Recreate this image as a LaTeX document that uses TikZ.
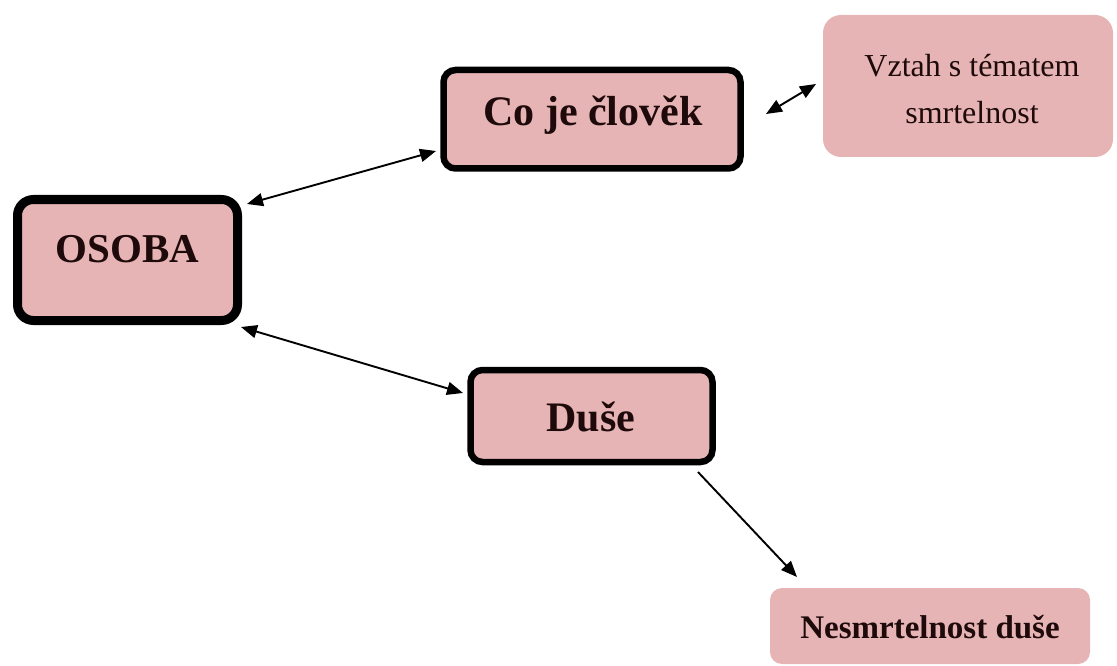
\documentclass[tikz,border=0pt]{standalone}
\usepackage{fontspec}
\setmainfont{Liberation Serif}
\usetikzlibrary{arrows.meta}
\definecolor{boxpink}{RGB}{230,180,180}
\definecolor{inkdark}{RGB}{30,10,10}
\begin{document}
\begin{tikzpicture}[x=1pt,y=-1pt,
  thickbox/.style={draw=black,fill=boxpink,rounded corners=#1},
  softbox/.style={fill=boxpink,rounded corners=#1},
  lbl/.style={anchor=base,inner sep=0pt,text=inkdark,font=#1},
  conn/.style={line width=1.9pt,draw=black,arrows={-Triangle[length=16pt,width=13pt]}},
  conn2/.style={line width=1.9pt,draw=black,arrows={Triangle[length=16pt,width=13pt]-Triangle[length=16pt,width=13pt]}}]
\useasboundingbox (0,0) rectangle (1117,666);
% boxes
\draw[thickbox=16pt,line width=9pt] (17.5,199.5) rectangle (237.5,320.5);
\node[inner sep=0pt,minimum width=220pt,minimum height=121pt] (osoba) at (127.5,260) {};
\draw[thickbox=12pt,line width=6.5pt] (443.5,70) rectangle (740.5,168.5);
\node[inner sep=0pt,minimum width=297pt,minimum height=98pt] (coje) at (592,119) {};
\draw[thickbox=12pt,line width=6.5pt] (470.5,370) rectangle (712.5,462);
\node[inner sep=0pt,minimum width=242pt,minimum height=92pt] (duse) at (591.5,416) {};
\fill[softbox=18pt] (823,15) rectangle (1113,157);
\node[inner sep=0pt,minimum width=290pt,minimum height=142pt] (vztah) at (968,86) {};
\fill[softbox=12pt] (770,588) rectangle (1090,664);
\node[inner sep=0pt,minimum width=320pt,minimum height=76pt] (nesm) at (930,626) {};
% texts
\node[lbl={\bfseries\fontsize{41}{41}\selectfont}] (tosoba) at (127.5,262) {OSOBA};
\node[lbl={\bfseries\fontsize{42}{42}\selectfont}] (tcoje) at (593,126) {Co je člověk};
\node[lbl={\bfseries\fontsize{42}{42}\selectfont}] (tduse) at (591,431) {Duše};
\node[lbl={\bfseries\fontsize{33}{33}\selectfont}] (tnesm) at (930,638) {Nesmrtelnost duše};
\node[lbl={\fontsize{32}{32}\selectfont}] (tvztah1) at (972,77) {Vztah s tématem};
\node[lbl={\fontsize{32}{32}\selectfont}] (tvztah2) at (972,124) {smrtelnost};
% connector end points
\coordinate (a1) at (247,204);
\coordinate (a2) at (436,151);
\coordinate (b1) at (241,327);
\coordinate (b2) at (463,393);
\coordinate (c1) at (766,114);
\coordinate (c2) at (816,84);
\coordinate (d1) at (698,472);
\coordinate (d2) at (797,577);
\draw[conn2] (a1) -- (a2);
\draw[conn2] (b1) -- (b2);
\draw[conn2] (c1) -- (c2);
\draw[conn] (d1) -- (d2);
\end{tikzpicture}
\end{document}
